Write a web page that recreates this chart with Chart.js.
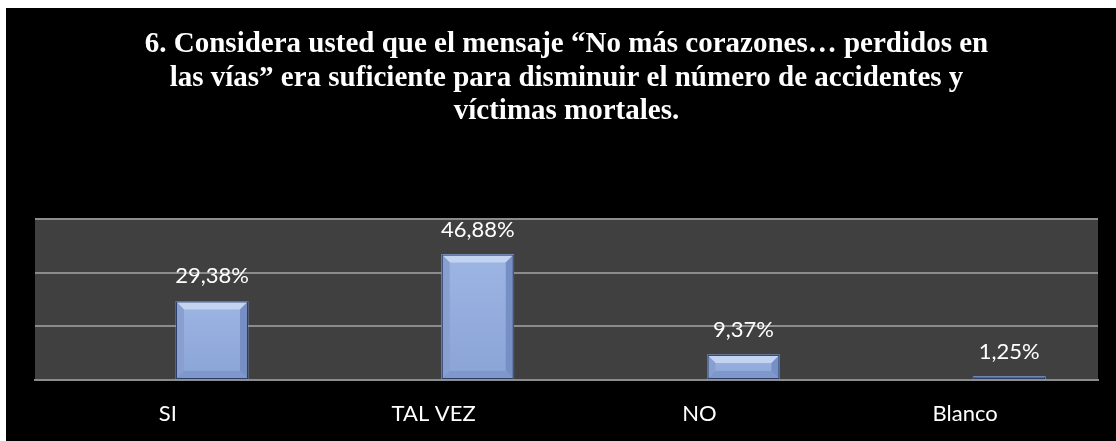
<!DOCTYPE html>
<html lang="es">
<head>
<meta charset="utf-8">
<title>Mensaje No más corazones</title>
<script src="https://cdn.jsdelivr.net/npm/chart.js@4/dist/chart.umd.min.js"></script>
<style>
    html, body {
        margin: 0;
        padding: 0;
        background: #ffffff;
    }
    #marco {
        position: absolute;
        left: 6px;
        top: 8px;
        width: 1110px;
        height: 433px;
        background: #000000;
    }
</style>
</head>
<body>
<div id="marco">
    <canvas id="grafico"></canvas>
</div>
<script>
// Respuestas a la pregunta 6
const categorias = ['SI', 'TAL VEZ', 'NO', 'Blanco'];
const porcentajes = [29.38, 46.88, 9.37, 1.25];
const etiquetas = ['29,38%', '46,88%', '9,37%', '1,25%'];

const titulo = [
    '6. Considera usted que el mensaje \u201cNo más corazones\u2026 perdidos en',
    'las vías\u201d era suficiente para disminuir el número de accidentes y',
    'víctimas mortales.'
];

// Las barras quedan un poco a la derecha de su etiqueta
const desplazamiento = 0.166;
const biselado = 8;

/**
 * Rellena un polígono con los puntos dados
 */
function poligono(ctx, color, puntos) {
    ctx.fillStyle = color;
    ctx.beginPath();
    ctx.moveTo(puntos[0][0], puntos[0][1]);
    for (const [px, py] of puntos.slice(1)) {
        ctx.lineTo(px, py);
    }
    ctx.closePath();
    ctx.fill();
}

/**
 * Dibuja el biselado de cada barra y su porcentaje encima
 */
const biselPlugin = {
    id: 'bisel',
    afterDatasetsDraw(chart) {
        const ctx = chart.ctx;
        const meta = chart.getDatasetMeta(0);

        meta.data.forEach((barra, i) => {
            const { x, y, base, width } = barra.getProps(['x', 'y', 'base', 'width'], true);
            const izq = x - width / 2;
            const der = x + width / 2;
            const b = Math.min(biselado, (base - y) / 2);

            ctx.save();
            // cara frontal con degradado suave
            const degradado = ctx.createLinearGradient(0, y, 0, base);
            degradado.addColorStop(0, '#9db5e3');
            degradado.addColorStop(1, '#8aa4d7');
            ctx.fillStyle = degradado;
            ctx.fillRect(izq, y, width, base - y);

            poligono(ctx, '#c3d4f1', [[izq, y], [der, y], [der - b, y + b], [izq + b, y + b]]);
            poligono(ctx, '#889fd0', [[izq, y], [izq + b, y + b], [izq + b, base - b], [izq, base]]);
            poligono(ctx, '#7690c5', [[der, y], [der - b, y + b], [der - b, base - b], [der, base]]);
            poligono(ctx, '#7f98cb', [[izq, base], [izq + b, base - b], [der - b, base - b], [der, base]]);

            // contorno
            ctx.strokeStyle = '#2c3f6b';
            ctx.lineWidth = 1;
            ctx.strokeRect(izq + 0.5, y + 0.5, width - 1, base - y - 1);

            // porcentaje
            ctx.fillStyle = '#ffffff';
            ctx.font = '22px Lato';
            ctx.textAlign = 'center';
            ctx.textBaseline = 'middle';
            ctx.fillText(etiquetas[i], x, y - 25);
            ctx.restore();
        });
    }
};

const ctx = document.getElementById('grafico').getContext('2d');

new Chart(ctx, {
    type: 'bar',
    data: {
        datasets: [{
            label: 'Porcentaje',
            data: porcentajes.map((valor, i) => ({ x: i + desplazamiento, y: valor })),
            backgroundColor: '#8ea8da',
            borderWidth: 0,
            barThickness: 72
        }]
    },
    options: {
        responsive: true,
        maintainAspectRatio: false,
        animation: false,
        layout: {
            padding: { left: 29, right: 18, top: 0, bottom: 0 }
        },
        plugins: {
            legend: { display: false },
            tooltip: { enabled: false },
            title: {
                display: true,
                text: titulo,
                color: '#ffffff',
                font: { family: 'Liberation Serif', size: 29, weight: 'bold', lineHeight: 1.155 },
                padding: { top: 20, bottom: 91 }
            }
        },
        scales: {
            x: {
                type: 'linear',
                offset: false,
                min: -0.5,
                max: 3.5,
                afterBuildTicks: (escala) => {
                    escala.ticks = categorias.map((_, i) => ({ value: i }));
                },
                afterFit: (escala) => {
                    escala.height = 61;
                },
                grid: { display: false, drawTicks: false },
                border: { display: true, color: '#8c8c8c', width: 2 },
                ticks: {
                    color: '#ffffff',
                    font: { family: 'Lato', size: 22 },
                    padding: 21,
                    maxRotation: 0,
                    autoSkip: false,
                    callback: (valor) => categorias[valor]
                }
            },
            y: {
                min: 0,
                max: 60,
                afterFit: (escala) => {
                    escala.width = 0;
                },
                ticks: { display: false, stepSize: 20 },
                grid: { color: '#8c8c8c', lineWidth: 2, drawTicks: false },
                border: { display: false }
            }
        }
    },
    plugins: [
        {
            // fondo gris del área de trazado
            id: 'fondoArea',
            beforeDraw(chart) {
                const { ctx, chartArea } = chart;
                ctx.save();
                ctx.fillStyle = '#404040';
                ctx.fillRect(chartArea.left, chartArea.top, chartArea.width, chartArea.height);
                ctx.restore();
            }
        },
        biselPlugin
    ]
});
</script>
</body>
</html>
